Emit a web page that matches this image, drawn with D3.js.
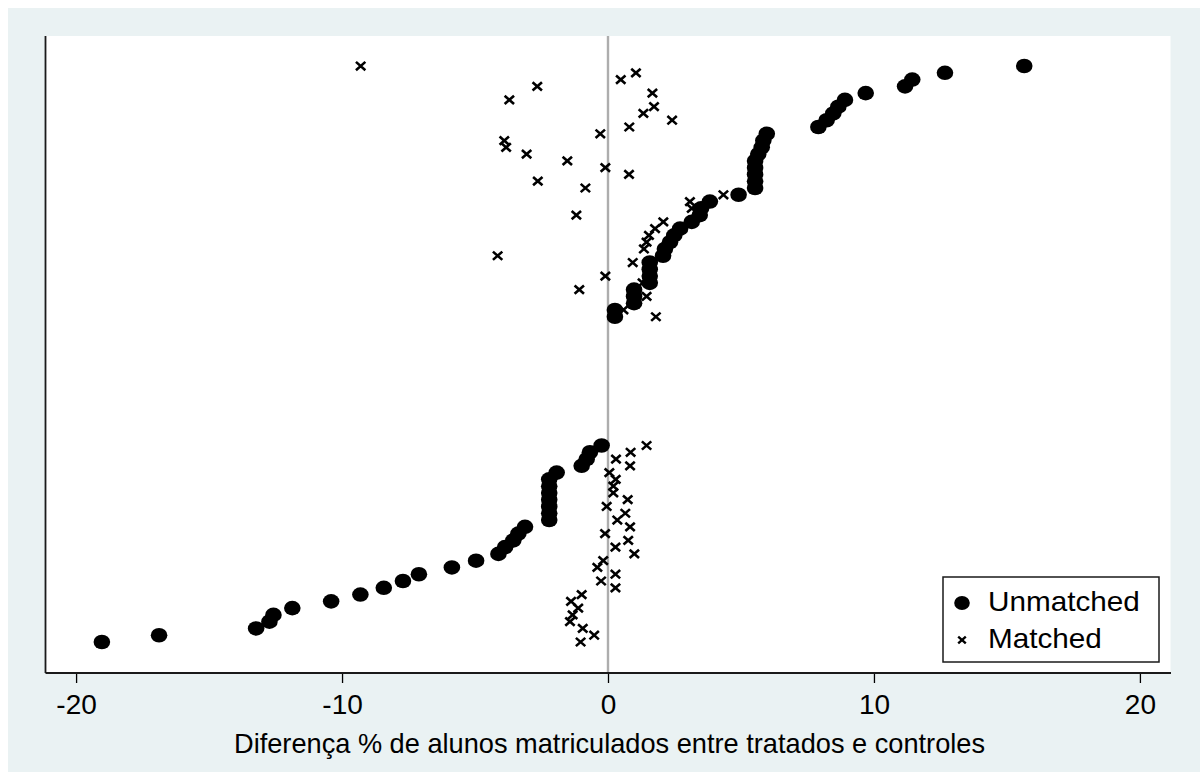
<!DOCTYPE html>
<html>
<head>
<meta charset="utf-8">
<script src="https://cdn.jsdelivr.net/npm/d3@7"></script>
<style>
  html, body { margin: 0; padding: 0; background: #ffffff; }
  svg { display: block; }
  text { font-family: "Liberation Sans", Arial, Helvetica, sans-serif; fill: #000; }
</style>
</head>
<body>
<svg id="chart" width="1200" height="772"></svg>
<script>
// ---- Data ----
// Row index (vertical position, ranked), unmatched and matched % differences
const rows = [0,1,2,3,4,5,6,7,8,9,10,11,12,13,14,15,16,17,18,19,20,21,22,23,24,25,26,27,28,29,
              48,49,50,51,52,53,54,55,56,57,58,59,60,61,62,63,64,65,66,67,68,69,70,71,72,73,74,75,76,77,78,79,80,81,82,83,84,85];
const unmatched = [-19.03,-16.88,-13.23,-12.73,-12.58,-11.87,-10.41,-9.31,-8.43,-7.71,-7.11,-5.87,-4.96,-4.12,-3.87,-3.56,-3.37,-3.12,
                   -2.21,-2.21,-2.21,-2.21,-2.21,-2.21,-2.21,-1.93,-0.99,-0.80,-0.68,-0.24,
                   0.26,0.26,0.98,0.98,0.98,1.57,1.57,1.57,1.57,2.07,2.14,2.33,2.49,2.71,3.15,3.45,3.50,3.83,4.91,
                   5.53,5.53,5.53,5.53,5.53,5.65,5.78,5.84,5.97,7.91,8.22,8.47,8.66,8.91,9.69,11.17,11.44,12.67,15.65];
const matched = [-1.03,-0.52,-0.95,-1.43,-1.33,-1.12,-1.39,-0.99,0.28,-0.26,0.28,-0.40,-0.18,0.99,0.28,0.76,-0.11,0.83,
                 0.35,0.65,-0.05,0.74,0.20,0.20,0.29,0.05,0.83,0.30,0.85,1.45,
                 1.80,0.58,1.00,1.45,-1.08,1.30,-0.10,1.50,0.93,-4.15,1.35,1.45,1.54,1.77,2.08,-1.19,3.15,3.08,4.34,
                 -0.85,-2.64,0.79,-0.10,-1.53,-3.06,-3.83,-3.90,-0.29,0.80,2.41,1.33,1.73,-3.71,1.67,-2.66,0.48,1.05,-9.30];
const xTicks = [-20,-10,0,10,20];
const xTitle = "Diferença % de alunos matriculados entre tratados e controles";
const seriesNames = ["Unmatched","Matched"];

// ---- Layout ----
const svg = d3.select("#chart");
const plot = {left: 45.5, right: 1170.5, top: 36, bottom: 673};

// Background (Stata s2color style)
svg.append("rect").attr("x", 8).attr("y", 8).attr("width", 1192).attr("height", 764)
  .attr("fill", "#eaf2f3");
svg.append("rect").attr("x", plot.left).attr("y", plot.top)
  .attr("width", plot.right - plot.left).attr("height", plot.bottom - plot.top)
  .attr("fill", "#ffffff");

const x = d3.scaleLinear().domain([-21.15, 21.15]).range([plot.left, plot.right]);
const y = d3.scaleLinear().domain([-4.575, 89.43]).range([plot.bottom, plot.top]);

// Zero reference line
svg.append("line")
  .attr("x1", x(0)).attr("x2", x(0))
  .attr("y1", plot.top).attr("y2", plot.bottom)
  .attr("stroke", "#adadad").attr("stroke-width", 2.4);

// Axes
const xAxis = d3.axisBottom(x).tickValues(xTicks).tickSize(10).tickFormat(d => String(d));
const gx = svg.append("g").attr("transform", `translate(0,${plot.bottom})`).call(xAxis);
gx.select(".domain").remove();
gx.selectAll(".tick line").attr("stroke", "#000").attr("stroke-width", 1.3);
gx.selectAll(".tick text")
  .attr("y", 40.5).attr("dy", null)
  .style("font-size", "28px")
  .attr("font-family", null)
  .attr("fill", "#000");

// Axis lines
svg.append("line").attr("x1", plot.left).attr("x2", plot.right + 0.5)
  .attr("y1", plot.bottom).attr("y2", plot.bottom)
  .attr("stroke", "#1a1a1a").attr("stroke-width", 1.8);
svg.append("line").attr("x1", plot.left).attr("x2", plot.left)
  .attr("y1", plot.top).attr("y2", plot.bottom)
  .attr("stroke", "#1a1a1a").attr("stroke-width", 1.8);

// Axis title
svg.append("text")
  .attr("x", 609.5).attr("y", 753)
  .attr("text-anchor", "middle")
  .style("font-size", "28.5px")
  .attr("textLength", 751)
  .attr("lengthAdjust", "spacingAndGlyphs")
  .text(xTitle);

// Data points
const data = rows.map((r, i) => ({r, u: unmatched[i], m: matched[i]}));

svg.append("g").selectAll("ellipse").data(data).join("ellipse")
  .attr("cx", d => x(d.u)).attr("cy", d => y(d.r))
  .attr("rx", 8.3).attr("ry", 7.3)
  .attr("fill", "#000");

const cs = 4.7;
const crossPath = (cx, cy, s) => `M${cx - s},${cy - s * 0.88}L${cx + s},${cy + s * 0.88}M${cx - s},${cy + s * 0.88}L${cx + s},${cy - s * 0.88}`;
svg.append("g").selectAll("path").data(data).join("path")
  .attr("d", d => crossPath(x(d.m), y(d.r), cs))
  .attr("stroke", "#000").attr("stroke-width", 2.6).attr("fill", "none");

// Legend
const lg = svg.append("g");
lg.append("rect").attr("x", 943).attr("y", 577).attr("width", 216).attr("height", 85)
  .attr("fill", "#fff").attr("stroke", "#1a1a1a").attr("stroke-width", 1.5);
lg.append("ellipse").attr("cx", 962).attr("cy", 603).attr("rx", 7.8).attr("ry", 7)
  .attr("fill", "#000");
lg.append("path").attr("d", crossPath(962, 640, 3.8))
  .attr("stroke", "#000").attr("stroke-width", 2.4).attr("fill", "none");
lg.append("text").attr("x", 988).attr("y", 611.5)
  .style("font-size", "27px")
  .attr("transform", "translate(988,0) scale(1.1,1) translate(-988,0)")
  .text(seriesNames[0]);
lg.append("text").attr("x", 988).attr("y", 648.5)
  .style("font-size", "27px")
  .attr("transform", "translate(988,0) scale(1.1,1) translate(-988,0)")
  .text(seriesNames[1]);
</script>
</body>
</html>
